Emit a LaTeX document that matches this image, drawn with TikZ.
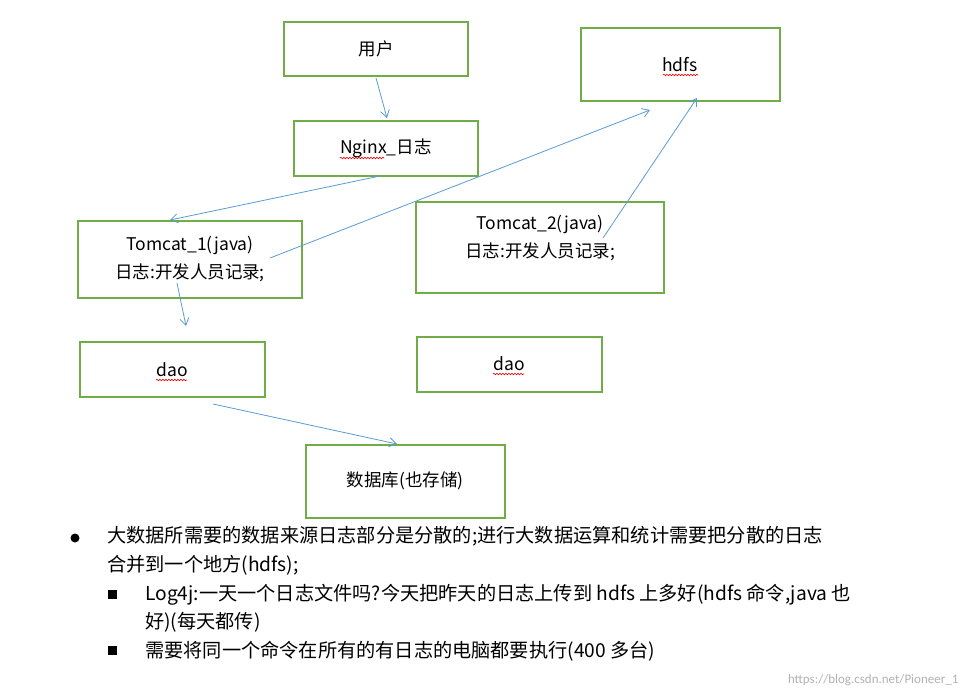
\documentclass[tikz,border=0pt]{standalone}
\usepackage{fontspec}
\setmainfont{Carlito}
\newfontfamily\cjk{Noto Sans CJK SC}
\usetikzlibrary{arrows.meta,decorations.pathmorphing}
\definecolor{bxg}{HTML}{70AD47}
\definecolor{arb}{HTML}{5B9BD5}
\tikzset{
  bx/.style={draw=bxg,line width=1.4pt},
  lbl/.style={font=\cjk\fontsize{17.5}{28}\selectfont,align=center},
  con/.style={draw=arb,line width=0.8pt,-{Straight Barb[length=7pt,width=9pt]}},
  txt/.style={font=\cjk\fontsize{19.2}{28.5}\selectfont,anchor=west,align=left,inner sep=0pt},
  wv/.style={draw=red,line width=0.6pt,decorate,decoration={snake,amplitude=0.8pt,segment length=3pt}}
}
\begin{document}
\begin{tikzpicture}[x=1pt,y=-1pt]
\useasboundingbox[fill=white] (0,0) rectangle (970,698);
\draw[bx] (284,22) rectangle (468,76); \node[lbl] (u) at (376,49) {用户};
\draw[bx] (581,28) rectangle (780,101); \node[lbl] (h) at (680,65) {hdfs};
\draw[wv] (663,75) -- (698,75);
\draw[bx] (294,121) rectangle (478,176); \node[lbl] (n) at (386,148) {Nginx\_日志};
\draw[wv] (340,158) -- (384,158);
\draw[bx] (78,221) rectangle (302,298); \node[lbl] (t1) at (190,259) {Tomcat\_1(java)\\日志:开发人员记录;};
\draw[bx] (416,202) rectangle (664,293); \node[lbl] (t2) at (540,238) {Tomcat\_2(java)\\日志:开发人员记录;};
\draw[bx] (80,342) rectangle (265,397); \node[lbl] (d1) at (172,370) {dao};
\draw[wv] (156,380) -- (187,380);
\draw[bx] (417,337) rectangle (602,392); \node[lbl] (d2) at (509,364) {dao};
\draw[wv] (493,374) -- (524,374);
\draw[bx] (306,445) rectangle (505,518); \node[lbl] (db) at (405,481) {数据库(也存储)};
\coordinate (a1) at (376,78); \coordinate (b1) at (387,118);
\coordinate (a2) at (380,176); \coordinate (b2) at (170,220);
\coordinate (a3) at (270,258); \coordinate (b3) at (650,110);
\coordinate (a4) at (603,238); \coordinate (b4) at (697,98);
\coordinate (a5) at (177,283); \coordinate (b5) at (186,326);
\coordinate (a6) at (213,404); \coordinate (b6) at (397,444);
\foreach \i in {1,...,6} \draw[con] (a\i) -- (b\i);
\fill (75,538) circle (4.5pt);
\node[txt] (p1) at (107,551) {大数据所需要的数据来源日志部分是分散的;进行大数据运算和统计需要把分散的日志\\合并到一个地方(hdfs);};
\fill (108,590) rectangle (117,599);
\node[txt] (p2) at (145,608) {Log4j:一天一个日志文件吗?今天把昨天的日志上传到 hdfs 上多好(hdfs 命令,java 也\\好)(每天都传)};
\fill (108,646) rectangle (117,655);
\node[txt] (p3) at (145,651) {需要将同一个命令在所有的有日志的电脑都要执行(400 多台)};
\node[font=\fontsize{13}{15}\selectfont,text=gray!60,anchor=east] (w) at (962,680) {https://blog.csdn.net/Pioneer\_1};
\end{tikzpicture}
\end{document}
